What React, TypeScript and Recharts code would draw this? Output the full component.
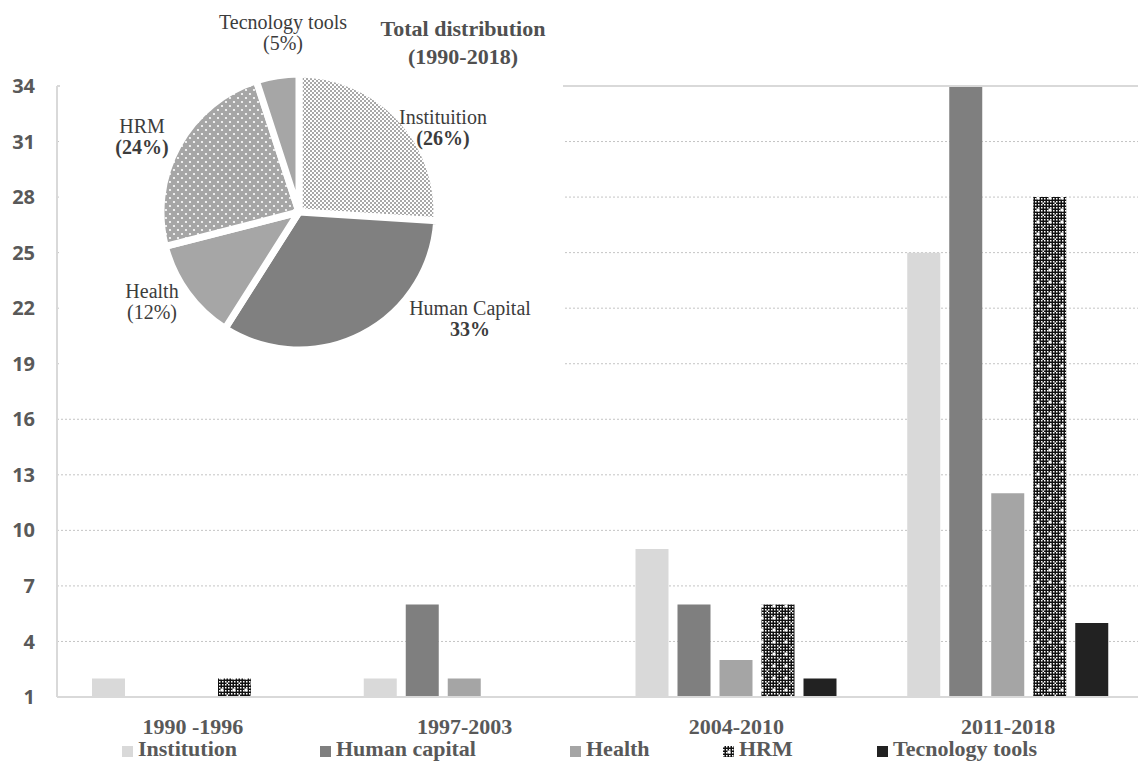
import React from "react"
import {
  BarChart,
  Bar,
  XAxis,
  YAxis,
  CartesianGrid,
  Legend,
  ReferenceLine,
  PieChart,
  Pie,
  Cell,
} from "recharts"

// publications per period and topic
const periods = ["1990 -1996", "1997-2003", "2004-2010", "2011-2018"]
const institution = [2, 2, 9, 25]
const humanCapital = [1, 6, 6, 34]
const health = [1, 2, 3, 12]
const hrm = [2, 1, 6, 28]
const tecnologyTools = [1, 1, 2, 5]
const yTicks = [1, 4, 7, 10, 13, 16, 19, 22, 25, 28, 31, 34]

// share of the whole 1990-2018 span
const pieNames = ["Instituition", "Human Capital", "Health", "HRM", "Tecnology tools"]
const pieShares = [26, 33, 12, 24, 5]

const SERIF = '"Liberation Serif", "Times New Roman", serif'
const SANS = '"Open Sans", "Liberation Sans", sans-serif'

const SERIES = [
  { key: "institution", name: "Institution", fill: "#d9d9d9" },
  { key: "humanCapital", name: "Human capital", fill: "#7f7f7f" },
  { key: "health", name: "Health", fill: "#a5a5a5" },
  { key: "hrm", name: "HRM", fill: "url(#hrmBar)" },
  { key: "tecnologyTools", name: "Tecnology tools", fill: "#222222" },
]

const barData = periods.map((period, i) => ({
  period,
  institution: institution[i],
  humanCapital: humanCapital[i],
  health: health[i],
  hrm: hrm[i],
  tecnologyTools: tecnologyTools[i],
}))

const pieData = pieNames.map((name, i) => ({ name, value: pieShares[i] }))
const pieFills = ["url(#instPie)", "#808080", "#a6a6a6", "url(#hrmPie)", "#a6a6a6"]

// label placement around the pie centre: [dx, dy] of the first line
const PIE_LABEL_OFFSET = [
  [144, -95],
  [171, 96],
  [-147, 79],
  [-157, -86],
  [-16, -190],
]
const PIE_PCT_WRAP = [true, false, true, true, true]
const PIE_PCT_BOLD = [true, true, false, true, false]

const LEGEND_X = [122, 320, 570, 723, 877]

function renderPieLabel(props: any) {
  const { cx, cy, index } = props
  const [dx, dy] = PIE_LABEL_OFFSET[index]
  const x = cx + dx
  const y = cy + dy + 7
  const pct = `${pieShares[index]}%`
  return (
    <text
      x={x}
      y={y}
      textAnchor="middle"
      fontFamily={SERIF}
      fontSize={20}
      fill="#3c3c3c"
    >
      <tspan x={x}>{pieNames[index]}</tspan>
      <tspan x={x} dy={21} fontWeight={PIE_PCT_BOLD[index] ? 700 : 400}>
        {PIE_PCT_WRAP[index] ? `(${pct})` : pct}
      </tspan>
    </text>
  )
}

// legend keeps the series order of the bars
function ChartLegend() {
  return (
    <div style={{ position: "relative", height: 32 }}>
      {SERIES.map((s, i) => (
        <div
          key={s.key}
          style={{
            position: "absolute",
            left: LEGEND_X[i],
            top: 0,
            height: 32,
            display: "flex",
            alignItems: "center",
            fontFamily: SERIF,
            fontSize: 22,
            fontWeight: 700,
            color: "#595959",
            whiteSpace: "nowrap",
          }}
        >
          <svg width={11} height={11} style={{ marginRight: 5, marginTop: 5 }}>
            <rect width={11} height={11} fill={s.fill} />
          </svg>
          {s.name}
        </div>
      ))}
    </div>
  )
}

export default function App() {
  return (
    <div
      style={{
        position: "absolute",
        left: 0,
        top: 0,
        width: 1138,
        height: 771,
        overflow: "hidden",
        background: "#fff",
      }}
    >
      <BarChart
        width={1144}
        height={771}
        data={barData}
        margin={{ top: 86, right: 0, bottom: 6, left: 0 }}
        barSize={33}
        barGap={9}
      >
        <defs>
          <pattern id="fineCheck" width={3} height={3} patternUnits="userSpaceOnUse">
            <rect width={3} height={3} fill="#111" />
            <rect width={1.5} height={1.5} fill="#fff" />
          </pattern>
          <pattern id="hrmBar" width={12} height={12} patternUnits="userSpaceOnUse">
            <rect width={12} height={12} fill="url(#fineCheck)" />
            <rect x={4.5} y={4.5} width={3} height={3} fill="#fff" />
            <rect x={10.5} y={10.5} width={1.5} height={1.5} fill="#fff" />
          </pattern>
        </defs>
        <CartesianGrid
          horizontal
          vertical={false}
          stroke="#c4c4c4"
          strokeDasharray="2 2"
        />
        <ReferenceLine y={34} stroke="#d9d9d9" strokeWidth={2} />
        <XAxis
          dataKey="period"
          interval={0}
          tickLine={false}
          tickSize={0}
          tickMargin={21}
          height={36}
          axisLine={{ stroke: "#d9d9d9", strokeWidth: 2 }}
          tick={{ fontFamily: SERIF, fontSize: 22, fontWeight: 700, fill: "#595959" }}
        />
        <YAxis
          domain={[1, 34]}
          ticks={yTicks}
          interval={0}
          width={57}
          tickLine={false}
          tickSize={0}
          tickMargin={22}
          axisLine={{ stroke: "#d9d9d9", strokeWidth: 2 }}
          tick={{ fontFamily: SANS, fontSize: 20, fontWeight: 700, fill: "#595959" }}
        />
        <Legend
          verticalAlign="bottom"
          content={<ChartLegend />}
          wrapperStyle={{ left: 0, width: 1144, height: 32 }}
        />
        {SERIES.map((s) => (
          <Bar
            key={s.key}
            dataKey={s.key}
            name={s.name}
            fill={s.fill}
            isAnimationActive={false}
          />
        ))}
      </BarChart>

      {/* inset pie with the overall distribution */}
      <div
        style={{
          position: "absolute",
          left: 60,
          top: 0,
          width: 503,
          height: 385,
          background: "#fff",
        }}
      >
        <div
          style={{
            position: "absolute",
            left: 303,
            top: 15,
            width: 200,
            textAlign: "center",
            fontFamily: SERIF,
            fontSize: 22,
            fontWeight: 700,
            lineHeight: "28px",
            color: "#505050",
            whiteSpace: "nowrap",
          }}
        >
          Total distribution
          <br />
          (1990-2018)
        </div>
        <PieChart width={503} height={385} margin={{ top: 0, right: 0, bottom: 0, left: 0 }}>
          <defs>
            <pattern id="instPie" width={4} height={4} patternUnits="userSpaceOnUse">
              <rect width={4} height={4} fill="#fff" />
              <rect width={2} height={2} fill="#a8a8a8" />
              <rect x={2} y={2} width={2} height={2} fill="#a8a8a8" />
            </pattern>
            <pattern id="hrmPie" width={8} height={8} patternUnits="userSpaceOnUse">
              <rect width={8} height={8} fill="#a6a6a6" />
              <circle cx={2} cy={2} r={1.1} fill="#fff" />
              <circle cx={6} cy={6} r={1.1} fill="#fff" />
            </pattern>
          </defs>
          <Pie
            data={pieData}
            dataKey="value"
            nameKey="name"
            cx={239}
            cy={212}
            outerRadius={138}
            startAngle={90}
            endAngle={-270}
            stroke="#fff"
            strokeWidth={7}
            labelLine={false}
            label={renderPieLabel}
            isAnimationActive={false}
          >
            {pieData.map((d, i) => (
              <Cell key={d.name} fill={pieFills[i]} />
            ))}
          </Pie>
        </PieChart>
      </div>
    </div>
  )
}
